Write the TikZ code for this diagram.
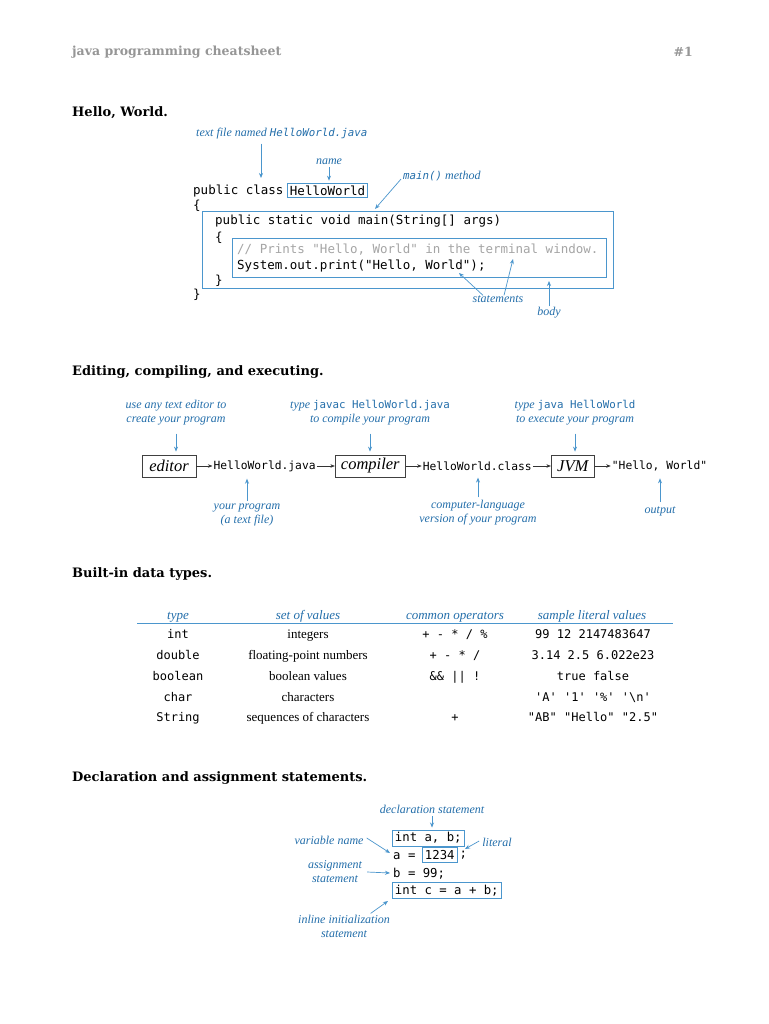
\documentclass[tikz,border=0pt]{standalone}
\usepackage{fontspec}
\setmainfont{Liberation Serif}
\setmonofont{DejaVu Sans Mono}
\newfontfamily\slabfont{DejaVu Serif}
\usetikzlibrary{arrows.meta,positioning}
\definecolor{cheatblue}{RGB}{35,110,170}
\definecolor{cheatbox}{RGB}{75,150,205}
\definecolor{cheatgrey}{RGB}{150,150,150}
\definecolor{cheatcomment}{RGB}{165,165,165}

\begin{document}
\begin{tikzpicture}[x=1pt, y=-1pt,
    title/.style={anchor=west, inner sep=0pt,
                  font=\slabfont\bfseries\fontsize{13}{15}\selectfont},
    pagehead/.style={title, text=cheatgrey,
                     font=\slabfont\bfseries\fontsize{12.5}{15}\selectfont},
    note/.style={inner sep=0pt, align=center, text=cheatblue,
                 font=\itshape\fontsize{12}{14}\selectfont},
    src/.style={anchor=base west, inner sep=0pt,
                font=\ttfamily\fontsize{12.5}{15}\selectfont},
    codebox/.style={draw=cheatbox, line width=0.9pt},
    arr/.style={-{Stealth[length=5pt,width=4pt]}, cheatbox, line width=0.7pt},
    flowbox/.style={draw=black!75, line width=0.8pt, minimum height=22pt,
                    inner sep=0pt, font=\itshape\fontsize{16.5}{18}\selectfont},
    flowcode/.style={inner sep=1pt, font=\ttfamily\fontsize{11.3}{13}\selectfont},
    flowarr/.style={-{Stealth[length=4.5pt,width=3.5pt]}, black!80, line width=0.5pt},
    cell/.style={anchor=base, inner sep=0pt, font=\fontsize{13}{15}\selectfont},
    cellcode/.style={cell, font=\ttfamily\fontsize{12}{14}\selectfont},
    colhead/.style={note, anchor=base, font=\itshape\fontsize{13}{15}\selectfont},
  ]
  \fill[white] (0,0) rectangle (768,1024);
  \useasboundingbox (0,0) rectangle (768,1024);

  % Zaglavlje stranice
  \node[pagehead] (pghead) at (72,52) {java programming cheatsheet};
  \node[pagehead, anchor=east] (pgnum) at (693,52) {\#1};

  % Hello, World
  \node[title] (secHello) at (72,113) {Hello, World.};

  \node[src] (pubcls) at (193,195) {public class};
  \node[src, codebox, anchor=west, inner sep=2.5pt] (clsName) at (287,190.5) {HelloWorld};
  \node[src] (open1) at (193,210) {\{};
  \node[codebox, anchor=north west, minimum width=411pt, minimum height=77pt]
    (bodyBox) at (202,211) {};
  \node[src] (mainsig) at (215,224.5) {public static void main(String[] args)};
  \node[src] (open2) at (215,241) {\{};
  \node[codebox, anchor=north west, minimum width=374pt, minimum height=39pt]
    (stmBox) at (232,238) {};
  \node[src, text=cheatcomment] (cmt) at (237,253.5)
    {// Prints "Hello, World" in the terminal window.};
  \node[src] (prt) at (237,269.5) {System.out.print("Hello, World");};
  \node[src] (close2) at (215,284) {\}};
  \node[src] (close1) at (193,298) {\}};

  \node[note, anchor=west] (fileLbl) at (196,134)
    {text file named {\ttfamily\fontsize{10.8}{13}\selectfont HelloWorld.java}};
  \node[note] (nameLbl) at (329,162) {name};
  \node[note, anchor=west] (mainLbl) at (403,176)
    {{\ttfamily\fontsize{10.8}{13}\selectfont main()} method};
  \node[note] (stmLbl) at (498,299) {statements};
  \node[note] (bodyLbl) at (549,313) {body};

  \coordinate (fileTip) at (261,178);
  \coordinate (mainTip) at (375,209);
  \coordinate (stmTipA) at (459,273);
  \coordinate (stmTipB) at (513,259);
  \coordinate (bodyTip) at (549,281);

  \draw[arr, shorten <=4pt] (fileLbl.south -| fileTip) -- (fileTip);
  \draw[arr, shorten <=2pt, shorten >=2pt] (nameLbl.south) -- (nameLbl.south |- clsName.north);
  \draw[arr] ([xshift=-2pt,yshift=2pt]mainLbl.south west) -- (mainTip);
  \draw[arr] ([xshift=-15pt]stmLbl.north) -- (stmTipA);
  \draw[arr] ([xshift=6pt]stmLbl.north) -- (stmTipB);
  \draw[arr, shorten <=1pt] (bodyLbl.north) -- (bodyTip);

  % Editing, compiling, executing
  \node[title] (secEdit) at (72,372) {Editing, compiling, and executing.};

  \node[flowbox, minimum width=54pt] (editor) at (169,466) {editor};
  \node[flowcode, right=16pt of editor] (javaFile) {HelloWorld.java};
  \node[flowbox, minimum width=70pt, right=18pt of javaFile] (compiler) {compiler};
  \node[flowcode, right=16pt of compiler] (classFile) {HelloWorld.class};
  \node[flowbox, minimum width=43pt, right=18pt of classFile] (jvm) {JVM};
  \node[flowcode, right=16pt of jvm] (helloOut) {"Hello, World"};

  \draw[flowarr] (editor) -- (javaFile);
  \draw[flowarr] (javaFile) -- (compiler);
  \draw[flowarr] (compiler) -- (classFile);
  \draw[flowarr] (classFile) -- (jvm);
  \draw[flowarr] (jvm) -- (helloOut);

  \node[note] (editLbl) at (176,413) {use any text editor to\\create your program};
  \node[note] (javacLbl) at (370,413)
    {type {\ttfamily\upshape\fontsize{10.8}{13}\selectfont javac HelloWorld.java}\\to compile your program};
  \node[note] (javaLbl) at (575,413)
    {type {\ttfamily\upshape\fontsize{10.8}{13}\selectfont java HelloWorld}\\to execute your program};
  \node[note] (progLbl) at (247,515) {your program\\(a text file)};
  \node[note] (byteLbl) at (478,513) {computer-language\\version of your program};
  \node[note] (outLbl) at (660,511) {output};

  \draw[arr, shorten <=8pt, shorten >=3pt] (editLbl.south) -- (editLbl.south |- editor.north);
  \draw[arr, shorten <=8pt, shorten >=3pt] (javacLbl.south) -- (javacLbl.south |- compiler.north);
  \draw[arr, shorten <=8pt, shorten >=3pt] (javaLbl.south) -- (javaLbl.south |- jvm.north);
  \draw[arr, shorten <=3pt, shorten >=6pt] (progLbl.north) -- (progLbl.north |- javaFile.south);
  \draw[arr, shorten <=3pt, shorten >=6pt] (byteLbl.north) -- (byteLbl.north |- classFile.south);
  \draw[arr, shorten <=4pt, shorten >=6pt] (outLbl.north) -- (outLbl.north |- helloOut.south);

  % Built-in data types
  \node[title] (secTypes) at (72,574) {Built-in data types.};

  \node[colhead] (hType) at (178,619) {type};
  \node[colhead] (hSet) at (308,619) {set of values};
  \node[colhead] (hOps) at (455,619) {common operators};
  \node[colhead] (hLit) at (592,619) {sample literal values};
  \draw[cheatbox, line width=0.9pt] (137,623.5) -- (673,623.5);

  \node[cellcode] (tInt) at (178,638) {int};
  \node[cell] (sInt) at (308,638) {integers};
  \node[cellcode] (oInt) at (455,638) {+ - * / \%};
  \node[cellcode] (lInt) at (593,638) {99 12 2147483647};

  \node[cellcode] (tDbl) at (178,659) {double};
  \node[cell] (sDbl) at (308,659) {floating-point numbers};
  \node[cellcode] (oDbl) at (455,659) {+ - * /};
  \node[cellcode] (lDbl) at (593,659) {3.14 2.5 6.022e23};

  \node[cellcode] (tBool) at (178,680) {boolean};
  \node[cell] (sBool) at (308,680) {boolean values};
  \node[cellcode] (oBool) at (455,680) {\&\& || !};
  \node[cellcode] (lBool) at (593,680) {true false};

  \node[cellcode] (tChar) at (178,701) {char};
  \node[cell] (sChar) at (308,701) {characters};
  \node[cellcode] (lChar) at (593,701) {'A' '1' '\%' '\textbackslash n'};

  \node[cellcode] (tStr) at (178,721) {String};
  \node[cell] (sStr) at (308,721) {sequences of characters};
  \node[cellcode] (oStr) at (455,721) {+};
  \node[cellcode] (lStr) at (593,721) {"AB" "Hello" "2.5"};

  % Declaration and assignment
  \node[title] (secDecl) at (72,778) {Declaration and assignment statements.};

  \node[src, codebox, anchor=west, inner sep=2.5pt, font=\ttfamily\fontsize{12.3}{14}\selectfont]
    (declBox) at (392,838) {int a, b;};
  \node[src, font=\ttfamily\fontsize{12.3}{14}\selectfont] (aEq) at (393,859.5) {a =};
  \node[src, codebox, anchor=west, inner sep=2.5pt, font=\ttfamily\fontsize{12.3}{14}\selectfont]
    (litBox) at (422,855) {1234\ };
  \node[src, font=\ttfamily\fontsize{12.3}{14}\selectfont, right=2pt of litBox.east, anchor=west]
    (semi) {;};
  \node[src, font=\ttfamily\fontsize{12.3}{14}\selectfont] (bEq) at (393,877.5) {b = 99;};
  \node[src, codebox, anchor=west, inner sep=2.5pt, font=\ttfamily\fontsize{12.3}{14}\selectfont]
    (initBox) at (392,890.5) {int c = a + b;};

  \node[note] (declLbl) at (432,809) {declaration statement};
  \node[note] (varLbl) at (329,840) {variable name};
  \node[note] (litLbl) at (497,842) {literal};
  \node[note] (asgLbl) at (335,872) {assignment\\statement};
  \node[note] (inlLbl) at (344,926) {inline initialization\\statement};

  \coordinate (varTip) at (390,853);
  \coordinate (litTip) at (465,849);
  \coordinate (asgTip) at (390,873);
  \coordinate (inlTip) at (388,901);

  \draw[arr, shorten <=3pt, shorten >=2pt] (declLbl.south) -- (declLbl.south |- declBox.north);
  \draw[arr] ([xshift=3pt,yshift=2pt]varLbl.east) -- (varTip);
  \draw[arr] ([xshift=-3pt,yshift=1pt]litLbl.west) -- (litTip);
  \draw[arr] ([xshift=5pt]asgLbl.east) -- (asgTip);
  \draw[arr, shorten <=2pt] ([xshift=25pt]inlLbl.north) -- (inlTip);
\end{tikzpicture}
\end{document}
